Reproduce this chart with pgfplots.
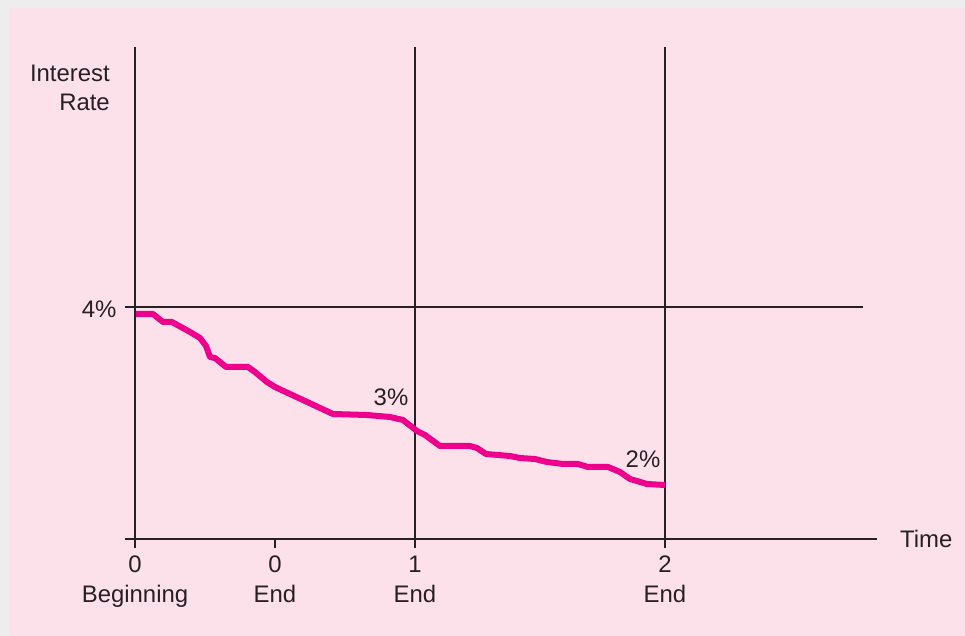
\documentclass[border=0pt]{standalone}
\usepackage{pgfplots}
\pgfplotsset{compat=1.18}
\usepackage{fontspec}
\setmainfont{Liberation Sans}

\definecolor{bgpink}{RGB}{252,224,234}
\definecolor{framegray}{RGB}{237,237,237}
\definecolor{ratemag}{RGB}{236,0,140}
\definecolor{ink}{RGB}{38,32,36}

\newcommand{\lblfont}{\fontsize{24}{30.1}\selectfont}

\begin{document}
\begin{tikzpicture}
  % x = pixel - 135, y = 539 - pixel
  \fill[framegray] (-135bp,-97bp) rectangle (830bp,539bp);
  \fill[bgpink] (-125bp,-97bp) rectangle (830bp,531bp);
  \begin{axis}[
    anchor=origin,
    at={(0,0)},
    scale only axis,
    width=752bp,
    height=501bp,
    xmin=-10, xmax=742,
    ymin=-9, ymax=492,
    axis lines=middle,
    axis line style={-, draw=ink, line width=1.2bp},
    clip=false,
    hide obscured x ticks=false,
    hide obscured y ticks=false,
    xtick={0,140,280,530},
    xticklabels={0\\Beginning, 0\\End, 1\vphantom{0}\\End, 2\vphantom{0}\\End},
    ytick={232},
    yticklabels={4\%},
    tick align=outside,
    major tick length=9bp,
    tick style={draw=ink, line width=1.2bp},
    xticklabel style={align=center, font=\lblfont, text=ink, yshift=-4bp},
    yticklabel style={font=\lblfont, text=ink, xshift=-6bp, yshift=-2bp},
  ]
    % reference lines
    \addplot[ink, line width=1.2bp, forget plot] coordinates {(-10,232) (728,232)};
    \addplot[ink, line width=1.2bp, forget plot] coordinates {(280,-9) (280,492)};
    \addplot[ink, line width=1.2bp, forget plot] coordinates {(530,-9) (530,492)};

    % interest rate path
    \addplot[ratemag, line width=6bp, line join=round] coordinates {
      (1,225) (18,225) (28,217) (37,217) (55,207) (65,201) (71,193)
      (75,182) (80,181) (91,172) (113,172) (120,167) (132,157) (140,152)
      (198,125) (232,124) (255,122) (268,119) (282,108) (290,104)
      (305,93) (335,93) (342,91) (351,85) (375,83) (385,81) (400,80)
      (412,77) (428,75) (443,75) (453,72) (473,72) (485,67) (495,60)
      (502,58) (512,55) (530,54)
    };

    \node[anchor=base east, inner sep=0, font=\lblfont, text=ink] at (axis cs:-25,457) {Interest};
    \node[anchor=base east, inner sep=0, font=\lblfont, text=ink] at (axis cs:-25,428) {Rate};
    \node[anchor=base, inner sep=0, font=\lblfont, text=ink] at (axis cs:256,133) {3\%};
    \node[anchor=base, inner sep=0, font=\lblfont, text=ink] at (axis cs:508,72) {2\%};
    \node[anchor=west, inner sep=0, font=\lblfont, text=ink] at (axis cs:765,0) {Time};
  \end{axis}
\end{tikzpicture}
\end{document}
